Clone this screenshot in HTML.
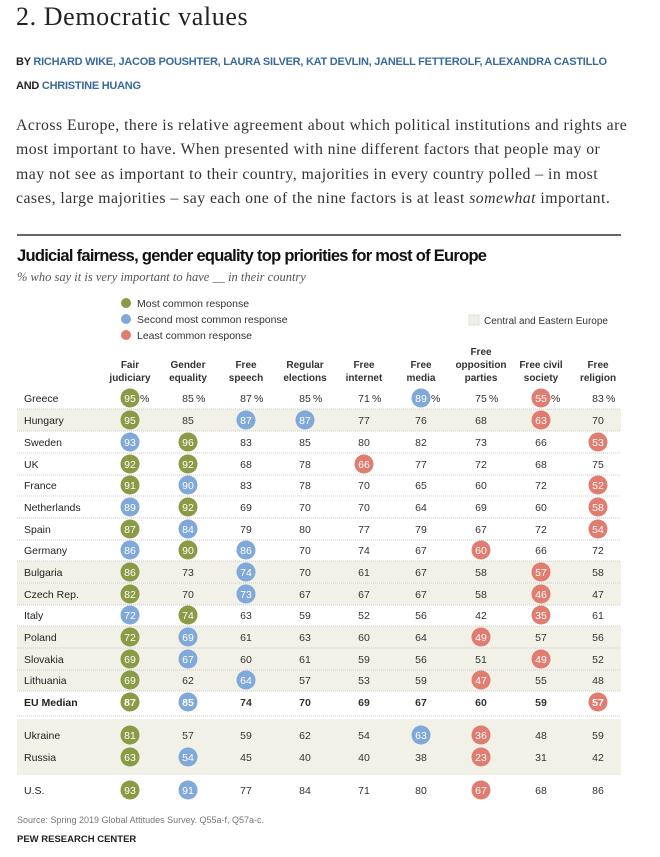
<!DOCTYPE html>
<html><head><meta charset="utf-8"><style>
body{margin:0;width:660px;height:857px;background:#fff;font-family:"Liberation Sans",sans-serif;position:relative;overflow:hidden}
.a{position:absolute;white-space:nowrap}
</style></head><body>
<div class="a" style="left:16px;top:2px;font:bold 26px 'Liberation Serif',serif;font-weight:normal;letter-spacing:0.6px;color:#222">2. Democratic values</div>
<div class="a" style="left:16px;top:50px;font:bold 11px 'Liberation Sans';letter-spacing:-0.25px;color:#222;line-height:24px">BY <span style="color:#3a6a9c">RICHARD WIKE, JACOB POUSHTER, LAURA SILVER, KAT DEVLIN, JANELL FETTEROLF, ALEXANDRA CASTILLO</span><br>AND <span style="color:#3a6a9c">CHRISTINE HUANG</span></div>
<div class="a" style="left:16px;top:114px;font:15.8px/24.4px 'Liberation Serif',serif;letter-spacing:0.45px;color:#333">Across Europe, there is relative agreement about which political institutions and rights are<br>most important to have. When presented with nine different factors that people may or<br>may not see as important to their country, majorities in every country polled – in most<br>cases, large majorities – say each one of the nine factors is at least <i>somewhat</i> important.</div>
<div class="a" style="left:17px;top:234px;width:604px;height:2px;background:#666"></div>
<svg id="chart" class="a" style="left:0;top:0" width="660" height="857"></svg>
<script>
const countries=["Greece","Hungary","Sweden","UK","France","Netherlands","Spain","Germany","Bulgaria","Czech Rep.","Italy","Poland","Slovakia","Lithuania","EU Median","Ukraine","Russia","U.S."];
const values=[[95,85,87,85,71,89,75,55,83],[95,85,87,87,77,76,68,63,70],[93,96,83,85,80,82,73,66,53],[92,92,68,78,66,77,72,68,75],[91,90,83,78,70,65,60,72,52],[89,92,69,70,70,64,69,60,58],[87,84,79,80,77,79,67,72,54],[86,90,86,70,74,67,60,66,72],[86,73,74,70,61,67,58,57,58],[82,70,73,67,67,67,58,46,47],[72,74,63,59,52,56,42,35,61],[72,69,61,63,60,64,49,57,56],[69,67,60,61,59,56,51,49,52],[69,62,64,57,53,59,47,55,48],[87,85,74,70,69,67,60,59,57],[81,57,59,62,54,63,36,48,59],[63,54,45,40,40,38,23,31,42],[93,91,77,84,71,80,67,68,86]];
const ranks=["g....b.r.","g.bb...r.","bg......r","gg..r....","gb......r","bg......r","gb......r","bgb...r..","g.b....r.","g.b....r.","bg.....r.","gb....r..","gb.....r.","g.b...r..","gb......r","g....br..","gb....r..","gb....r.."];
const shaded=[0,1,0,0,0,0,0,0,1,1,0,1,1,1,0,1,1,0];
const headers=[["Fair","judiciary"],["Gender","equality"],["Free","speech"],["Regular","elections"],["Free","internet"],["Free","media"],["Free","opposition","parties"],["Free civil","society"],["Free","religion"]];
const NS="http://www.w3.org/2000/svg",svg=document.getElementById('chart');
const colX=[130,188,246,305,364,421,481,541,598];
const rowY=[398,420,442,464,485,507,529,550,572,594,615,637,659,680,702,735,757,790];
const col={g:"#8b9a44",b:"#80a9d9",r:"#e07c70"};
function mk(t,a,txt){const e=document.createElementNS(NS,t);for(const k in a)e.setAttribute(k,a[k]);if(txt!=null)e.textContent=txt;svg.appendChild(e);return e;}
let t=mk('text',{x:17,y:261,'font-size':16.5,'font-weight':'bold',fill:'#111','font-family':'Liberation Sans Narrow, Liberation Sans','textLength':470},"Judicial fairness, gender equality top priorities for most of Europe");

t=mk('text',{x:17,y:281,'font-size':12.5,'font-style':'italic',fill:'#555','font-family':'Liberation Serif'},"% who say it is very important to have __ in their country");

[["g","Most common response",303],["b","Second most common response",319],["r","Least common response",335]].forEach(l=>{
 let c=mk('circle',{cx:126,cy:l[2],r:5,fill:col[l[0]]});
 let tx=mk('text',{x:137,y:l[2]+4,'font-size':10.5,fill:'#333'},l[1]);});
let sw=mk('rect',{x:469,y:315,width:10,height:10,fill:'#efefe6',stroke:'#ddd'});
let st=mk('text',{x:484,y:324,'font-size':10,fill:'#333'},"Central and Eastern Europe");
countries.forEach((c,i)=>{if(shaded[i]&&i!==15&&i!==16){let r=mk('rect',{x:17,y:rowY[i]-11,width:604,height:22,fill:'#f1f1e8'});}});
let rb=mk('rect',{x:17,y:719,width:604,height:56,fill:'#f1f1e8'});
for(let i=0;i<14;i++){let ln=mk('line',{x1:17,x2:621,y1:rowY[i]+11,y2:rowY[i]+11,stroke:'#ccc','stroke-dasharray':'1,1'});}
let ln2=mk('line',{x1:17,x2:621,y1:716,y2:716,stroke:'#ccc','stroke-dasharray':'1,1'});
headers.forEach((h,j)=>{const base=381-(h.length-1)*13;h.forEach((w,k)=>{let e=mk('text',{x:colX[j],y:base+k*13,'font-size':10,'font-weight':'bold',fill:'#333','text-anchor':'middle'},w);});});
countries.forEach((c,i)=>{const bold=i===14;
 let e=mk('text',{x:24,y:rowY[i]+4,'font-size':10.5,fill:'#222','font-weight':bold?'bold':'normal'},c);
 values[i].forEach((v,j)=>{const r=ranks[i][j];
  if(col[r]){let ci=mk('circle',{cx:colX[j],cy:rowY[i],r:9.5,fill:col[r]});}
  let tx=mk('text',{x:colX[j],y:rowY[i]+4,'font-size':10.5,'text-anchor':'middle',fill:col[r]?'#fff':'#333','font-weight':bold?'bold':'normal'},v);
  
  if(i===0){let p=mk('text',{x:colX[j]+(col[r]?10:8),y:rowY[i]+4,'font-size':10.5,fill:'#333'},"%");}
 });});
let so=mk('text',{x:17,y:823,'font-size':9,fill:'#777'},"Source: Spring 2019 Global Attitudes Survey. Q55a-f, Q57a-c.");
let pw=mk('text',{x:17,y:842,'font-size':9.5,'font-weight':'bold',fill:'#222'},"PEW RESEARCH CENTER");
</script>
</body></html>
